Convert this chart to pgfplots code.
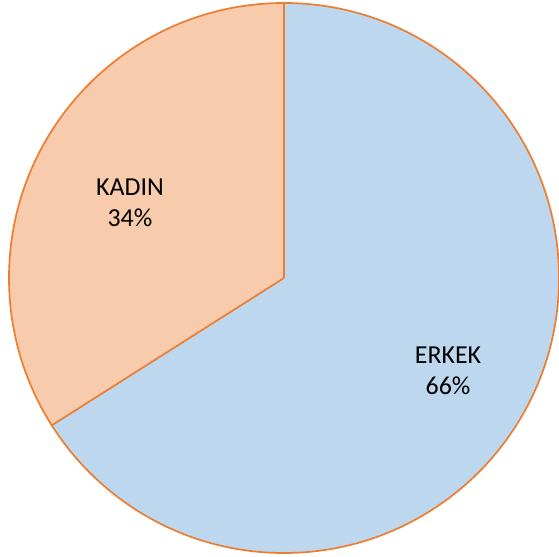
\documentclass[border=0pt]{standalone}
\usepackage{pgfplots}
\pgfplotsset{compat=1.18}
\usepackage{fontspec}
\setmainfont{Carlito}
\definecolor{erkek}{HTML}{BDD7EE}
\definecolor{kadin}{HTML}{F8CBAD}
\definecolor{edge}{HTML}{ED7D31}
\begin{document}
\begin{tikzpicture}
\def\erkek{66}
\def\kadin{34}
\pgfmathsetmacro{\kend}{90+360*\kadin/(\erkek+\kadin)}
\begin{axis}[
  at={(0,0)}, anchor=south west,
  width=559bp, height=557bp, scale only axis,
  xmin=-284, xmax=275, ymin=-279, ymax=278,
  hide axis, clip=false,
]
\fill[erkek] (axis cs:0,0) -- (axis cs:0,275) arc[start angle=90, end angle=\kend-360, radius=275bp] -- cycle;
\fill[kadin] (axis cs:0,0) -- (axis cs:0,275) arc[start angle=90, end angle=\kend, radius=275bp] -- cycle;
\draw[edge, line width=1.7bp] (axis cs:0,0) -- (axis cs:0,275);
\draw[edge, line width=1.7bp] (axis cs:0,0) -- ++(\kend:275bp);
\draw[edge, line width=1.7bp] (axis cs:0,0) circle[radius=275bp];
\node[align=center, font=\fontsize{26}{31}\selectfont] at (axis cs:-154,75) {KADIN\\\kadin\%};
\node[align=center, font=\fontsize{26}{31}\selectfont] at (axis cs:164,-93) {ERKEK\\\erkek\%};
\end{axis}
\pgfresetboundingbox
\path[use as bounding box] (0,0) rectangle (559bp,557bp);
\end{tikzpicture}
\end{document}
